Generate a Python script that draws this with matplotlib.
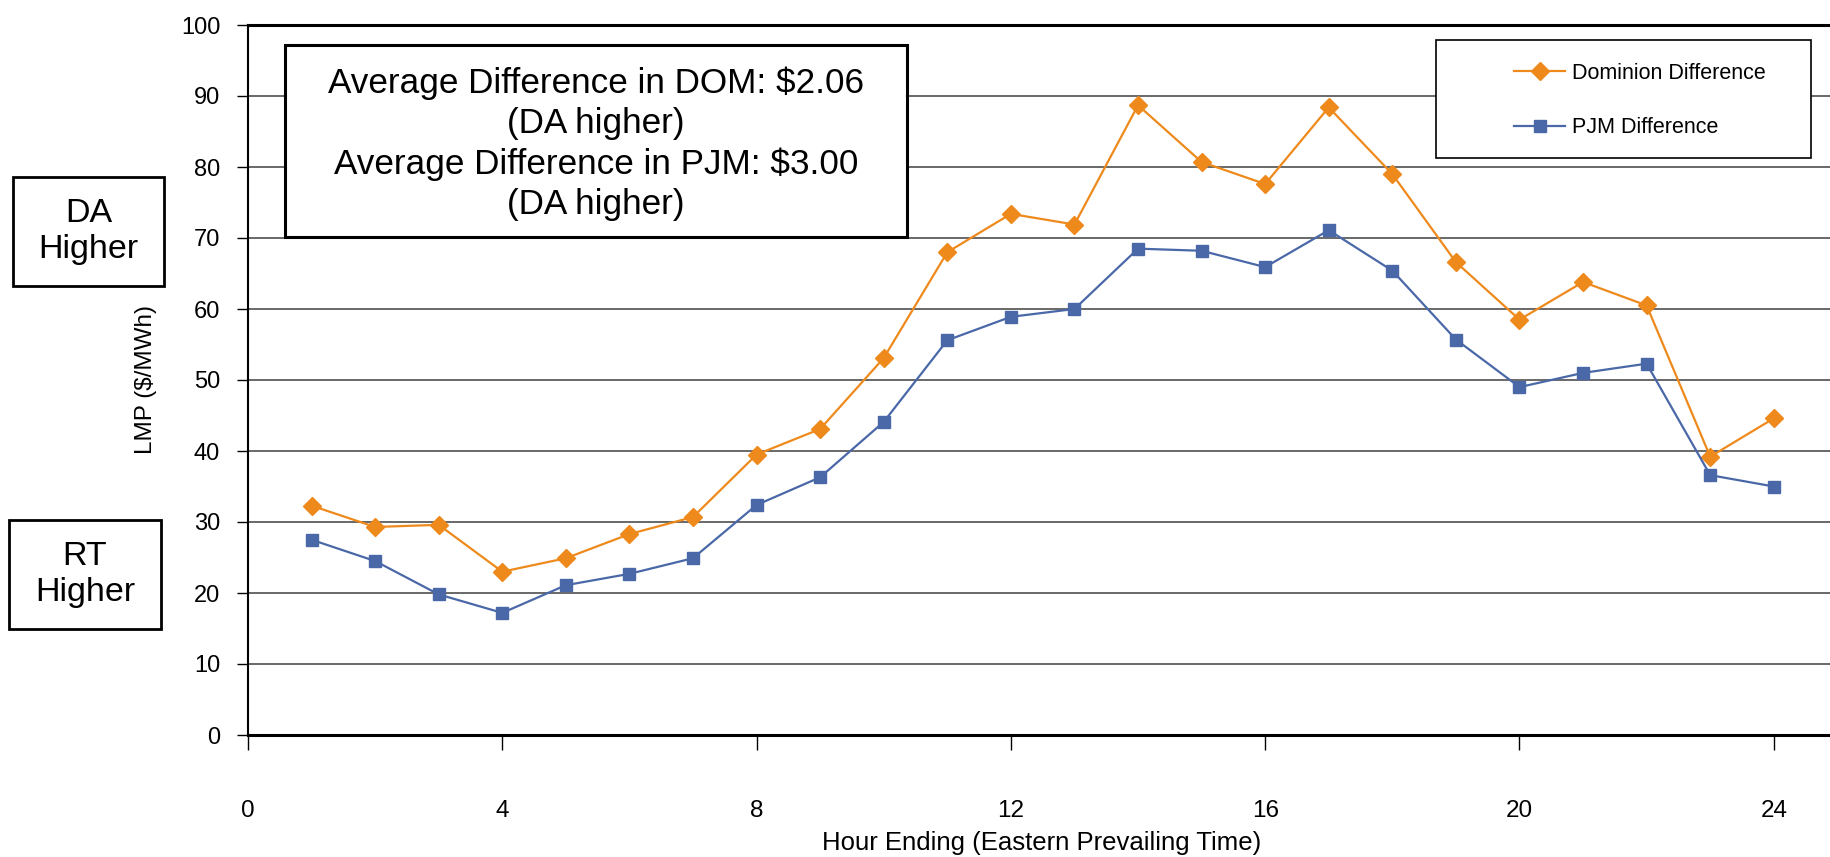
import matplotlib
matplotlib.use("Agg")
import matplotlib.pyplot as plt
from matplotlib.patches import Rectangle
from matplotlib.lines import Line2D

# Arial Narrow look-alike if present, else plain Liberation Sans
narrow = ["Liberation Sans Narrow", "Liberation Sans"]
wide = ["Liberation Sans"]

hours = list(range(1, 25))
dominion = [32.3, 29.3, 29.6, 23.0, 24.9, 28.3, 30.7, 39.5, 43.1, 53.1, 68.0, 73.4,
            71.9, 88.7, 80.7, 77.6, 88.4, 79.0, 66.6, 58.5, 63.8, 60.5, 39.2, 44.6]
pjm = [27.5, 24.5, 19.8, 17.2, 21.1, 22.7, 24.9, 32.4, 36.3, 44.1, 55.6, 58.9,
       60.0, 68.5, 68.2, 65.9, 71.1, 65.4, 55.7, 49.0, 51.0, 52.3, 36.6, 35.0]
series_names = ["Dominion Difference", "PJM Difference"]
note_lines = ["Average Difference in DOM: $2.06", "(DA higher)",
              "Average Difference in PJM: $3.00", "(DA higher)"]

orange = "#EE8A1C"
blue = "#4A68A8"

W, H = 1831, 857
fig = plt.figure(figsize=(W / 100, H / 100), dpi=100)
ax = fig.add_axes([248 / W, 1 - 735 / H, 1 - 248 / W, 710 / H])

ax.plot(hours, dominion, color=orange, lw=1.6, marker="D", ms=9, label=series_names[0])
ax.plot(hours, pjm, color=blue, lw=1.6, marker="s", ms=8.5, label=series_names[1])

ax.set_xlim(0, 24.9)
ax.set_ylim(0, 100)
ax.set_xticks(range(0, 25, 4))
ax.set_yticks(range(0, 101, 10))
ax.yaxis.grid(True, color="#404040", lw=1.1)
ax.set_axisbelow(True)
for lab in ax.get_xticklabels():
    lab.set_fontfamily(narrow)
    lab.set_fontsize(17.5)
for lab in ax.get_yticklabels():
    lab.set_fontfamily(narrow)
    lab.set_fontsize(17)
ax.tick_params(axis="x", direction="out", length=11, width=1, pad=36)
ax.tick_params(axis="y", direction="out", length=8, width=1, pad=12)

ax.spines["right"].set_visible(False)
ax.spines["top"].set_linewidth(2.2)
ax.spines["bottom"].set_linewidth(2.2)
ax.spines["left"].set_linewidth(1.5)

ax.set_xlabel("Hour Ending (Eastern Prevailing Time)", fontfamily=narrow, fontsize=18.5)
ax.xaxis.set_label_coords((1042 - 248) / (W - 248), -(843 - 735) / 710)
ax.set_ylabel("LMP ($/MWh)", fontfamily=narrow, fontsize=17.5)
ax.yaxis.set_label_coords(-(248 - 146) / (W - 248), 0.5)
ax.xaxis.label.set_va("center")
ax.yaxis.label.set_va("center")

# note box with the averages
fig.patches.append(Rectangle((285 / W, 1 - 237 / H), 622 / W, 192 / H,
                             transform=fig.transFigure, facecolor="white",
                             edgecolor="black", lw=2.2, zorder=0.5))
fig.text(596 / W, 1 - 144 / H, "\n".join(note_lines), ha="center", va="center",
         fontfamily=wide, fontsize=25.3, linespacing=1.27)

# side labels
for label, top, bot, x0, x1 in [("DA\nHigher", 177, 286, 13, 164),
                                ("RT\nHigher", 520, 629, 9, 161)]:
    fig.patches.append(Rectangle((x0 / W, 1 - bot / H), (x1 - x0) / W, (bot - top) / H,
                                 transform=fig.transFigure, fill=False,
                                 edgecolor="black", lw=2))
    fig.text((x0 + x1) / 2 / W, 1 - (top + bot) / 2 / H, label, ha="center", va="center",
             fontfamily=wide, fontsize=24.5, linespacing=1.2)

# legend
fig.patches.append(Rectangle((1436 / W, 1 - 158 / H), 375 / W, 118 / H,
                             transform=fig.transFigure, facecolor="white",
                             edgecolor="black", lw=1.2, zorder=0.5))
handles = [Line2D([], [], color=orange, lw=1.6, marker="D", ms=9),
           Line2D([], [], color=blue, lw=1.6, marker="s", ms=8.5)]
leg = fig.legend(handles, series_names, loc="upper left",
                 bbox_to_anchor=(1503 / W, 1 - 52 / H), frameon=False,
                 prop={"family": narrow, "size": 15.5}, handlelength=2.4,
                 handletextpad=0.3, labelspacing=1.55, borderpad=0)

fig.savefig("out.png", dpi=100)
